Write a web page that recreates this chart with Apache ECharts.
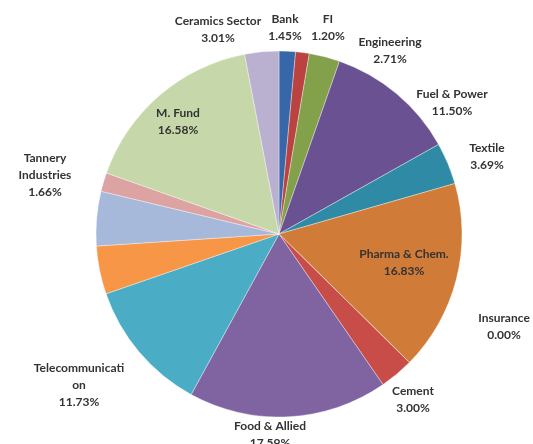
<!DOCTYPE html>
<html>
<head>
<meta charset="utf-8">
<script src="https://cdn.jsdelivr.net/npm/echarts@6/dist/echarts.min.js"></script>
<style>
html,body{margin:0;padding:0;background:#fff;}
#chart{width:533px;height:444px;}
</style>
</head>
<body>
<div id="chart"></div>
<script>
// Sector shares (%), clockwise from 12 o'clock
var categories = ['Bank', 'FI', 'Engineering', 'Fuel & Power', 'Textile', 'Pharma & Chem.', 'Insurance', 'Cement', 'Food & Allied', 'Telecommunication', 'IT', 'Miscellaneous', 'Tannery Industries', 'M. Fund', 'Ceramics Sector'];
var values = [1.45, 1.20, 2.71, 11.50, 3.69, 16.83, 0.00, 3.00, 17.59, 11.73, 4.25, 4.80, 1.66, 16.58, 3.01];
var showLabel = [true, true, true, true, true, true, true, true, true, true, false, false, true, true, true];

var colors = ['#3767A8', '#BA4240', '#83A14A', '#6A5192', '#2F8BA5', '#D07B37', '#9BBB59', '#C84C48', '#8064A2', '#4BACC6', '#F79646', '#A7B9DB', '#DCA3A2', '#C6D8AA', '#BAB0D0'];
// label anchor points (text centres) as placed in the reference
var labelPos = [[285, 28], [328, 28], [390, 51], [452, 103], [487, 157], [404, 263], [504, 327], [413, 400], [270, 435], [79, 385], [0, 0], [0, 0], [45, 175], [178, 122], [218, 30]];

function wrapName(name) {
  if (name === 'Tannery Industries') return 'Tannery\nIndustries';
  if (name === 'Telecommunication') return 'Telecommunicati\non';
  return name;
}

var data = categories.map(function (c, i) {
  return {
    name: c,
    value: values[i],
    itemStyle: { color: colors[i] },
    label: { show: showLabel[i] }
  };
});

var chart = echarts.init(document.getElementById('chart'));
chart.setOption({
  backgroundColor: '#ffffff',
  animation: false,
  series: [{
    type: 'pie',
    center: [279, 234],
    radius: 183,
    startAngle: 90,
    clockwise: true,
    avoidLabelOverlap: false,
    data: data,
    itemStyle: { borderColor: 'rgba(255,255,255,0.6)', borderWidth: 0.6 },
    label: {
      show: true,
      position: 'outside',
      formatter: function (p) { return wrapName(p.name) + '\n' + p.value.toFixed(2) + '%'; },
      fontFamily: 'Lato',
      fontWeight: 'bold',
      fontSize: 12,
      lineHeight: 17,
      color: '#333333',
      align: 'center'
    },
    labelLine: { show: false },
    labelLayout: function (p) {
      var pos = labelPos[p.dataIndex];
      return { x: pos[0], y: pos[1], align: 'center', verticalAlign: 'middle' };
    },
    emphasis: { disabled: true }
  }]
});
</script>
</body>
</html>
